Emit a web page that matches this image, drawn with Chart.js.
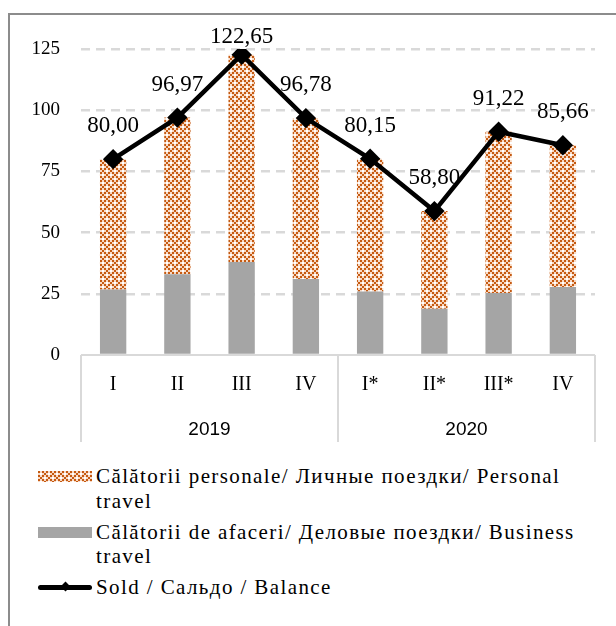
<!DOCTYPE html>
<html>
<head>
<meta charset="utf-8">
<script src="https://cdn.jsdelivr.net/npm/chart.js@4"></script>
<style>
  html, body { margin: 0; padding: 0; background: #fff; }
  body { width: 616px; height: 626px; overflow: hidden; position: relative; }
  .frame { position: absolute; left: 8px; top: 13px; width: 700px; height: 700px;
           border-left: 2px solid #8c8c8c; border-top: 2px solid #8c8c8c; }
  #wrap { position: absolute; left: 0; top: 0; width: 616px; height: 460px; }
  .legend { position: absolute; left: 38px; top: 464px; width: 560px;
            font-family: 'Liberation Serif', serif; font-size: 21px; letter-spacing: 1.4px;
            line-height: 24.5px; color: #000; }
  .item { position: relative; padding-left: 58px; margin-bottom: 6.5px; }
  .sw { position: absolute; left: 0; top: 7px; width: 54px; height: 11px; }
  .sw.line { top: 10px; height: 5px; background: #000; border-radius: 3px; }
  .sw.line:after { content: ''; position: absolute; left: 24px; top: -2px; width: 7px; height: 7px;
                   background: #000; transform: rotate(45deg); }
</style>
</head>
<body>
<div class="frame"></div>
<div id="wrap"><canvas id="travelChart" width="616" height="460"></canvas></div>
<div class="legend">
  <div class="item"><span class="sw" id="swPersonal"></span>Călătorii personale/ Личные поездки/ Personal travel</div>
  <div class="item"><span class="sw" style="background:#a5a5a5"></span>Călătorii de afaceri/ Деловые поездки/ Business travel</div>
  <div class="item"><span class="sw line"></span>Sold / Сальдо / Balance</div>
</div>
<script>
// data
const quarters = ['I', 'II', 'III', 'IV', 'I*', 'II*', 'III*', 'IV'];
const years = ['2019', '2020'];
const quartersPerYear = [4, 4];
const business = [26.8, 33.0, 38.0, 31.0, 25.9, 18.9, 25.3, 27.8];
const personal = [53.2, 63.97, 84.65, 65.78, 54.25, 39.9, 65.92, 57.86];
const balance = [80.00, 96.97, 122.65, 96.78, 80.15, 58.80, 91.22, 85.66];
const yTicks = [0, 25, 50, 75, 100, 125];

const serif = "'Liberation Serif', serif";

// orange checker pattern like the excel fill
function makePattern() {
  const c = document.createElement('canvas');
  c.width = 8; c.height = 8;
  const g = c.getContext('2d');
  g.fillStyle = '#f8d9c4';
  g.fillRect(0, 0, 8, 8);
  g.fillStyle = '#c55a11';
  for (let y = 0; y < 8; y += 2) {
    for (let x = 0; x < 8; x += 2) {
      if (((x + y) / 2) % 2 === 0) g.fillRect(x, y, 2, 2);
    }
  }
  g.fillStyle = '#ffffff';
  g.fillRect(6, 6, 2, 2);
  g.fillRect(2, 2, 2, 2);
  return c;
}
const patCanvas = makePattern();
const ctx = document.getElementById('travelChart').getContext('2d');
const personalFill = ctx.createPattern(patCanvas, 'repeat');
document.getElementById('swPersonal').style.background = 'url(' + patCanvas.toDataURL() + ')';

// year row, category box and value labels
const extras = {
  id: 'extras',
  afterDraw(chart) {
    const g = chart.ctx;
    const xs = chart.scales.x;
    const area = chart.chartArea;
    const step = (xs.right - xs.left) / quarters.length;
    g.save();
    g.strokeStyle = '#d9d9d9';
    g.lineWidth = 2;
    g.beginPath();
    g.moveTo(xs.left, area.bottom);
    g.lineTo(xs.right, area.bottom);
    let idx = 0;
    const edges = [0];
    quartersPerYear.forEach(n => { idx += n; edges.push(idx); });
    edges.forEach(e => {
      const x = xs.left + e * step;
      g.moveTo(x, area.bottom);
      g.lineTo(x, area.bottom + 87);
    });
    g.stroke();
    g.fillStyle = '#000';
    g.font = "19px 'Liberation Sans Narrow', 'Liberation Sans', sans-serif";
    g.textAlign = 'center';
    g.textBaseline = 'middle';
    years.forEach((yr, i) => {
      const x = xs.left + (edges[i] + edges[i + 1]) / 2 * step;
      g.fillText(yr, x, area.bottom + 75);
    });
    // value labels above the line points
    const meta = chart.getDatasetMeta(2);
    g.font = '23px ' + serif;
    meta.data.forEach((pt, i) => {
      const y = Math.max(pt.y - 33, 37);
      g.fillText(balance[i].toFixed(2).replace('.', ','), pt.x, y);
    });
    g.restore();
  }
};

new Chart(ctx, {
  type: 'bar',
  data: {
    labels: quarters,
    datasets: [
      {
        label: 'Călătorii de afaceri/ Деловые поездки/ Business travel',
        data: business,
        backgroundColor: '#a5a5a5',
        stack: 'travel',
        order: 2
      },
      {
        label: 'Călătorii personale/ Личные поездки/ Personal travel',
        data: personal,
        backgroundColor: personalFill,
        stack: 'travel',
        order: 2
      },
      {
        type: 'line',
        label: 'Sold / Сальдо / Balance',
        data: balance,
        borderColor: '#000',
        backgroundColor: '#000',
        borderWidth: 4.5,
        pointStyle: 'rectRot',
        pointRadius: 7,
        tension: 0,
        stack: 'line',
        order: 1
      }
    ]
  },
  options: {
    responsive: false,
    animation: false,
    layout: { padding: { left: 0, right: 21, top: 49, bottom: 15 } },
    datasets: { bar: { barPercentage: 0.41, categoryPercentage: 1 } },
    plugins: {
      legend: { display: false },
      tooltip: { enabled: false }
    },
    scales: {
      x: {
        stacked: true,
        grid: { display: false, drawTicks: false },
        border: { display: false },
        ticks: { color: '#000', font: { family: serif, size: 20 }, padding: 18 },
        afterFit: s => { s.height = 90; }
      },
      y: {
        stacked: true,
        min: 0,
        max: 125,
        afterBuildTicks: s => { s.ticks = yTicks.map(v => ({ value: v })); },
        grid: {
          color: c => c.tick.value === 0 ? 'rgba(0,0,0,0)' : '#d9d9d9',
          lineWidth: 2.5,
          drawTicks: false
        },
        border: { display: false, dash: [9, 6] },
        ticks: { color: '#000', font: { family: serif, size: 19 }, padding: 21 },
        afterFit: s => { s.width = 81; }
      }
    }
  },
  plugins: [extras]
});
</script>
</body>
</html>
